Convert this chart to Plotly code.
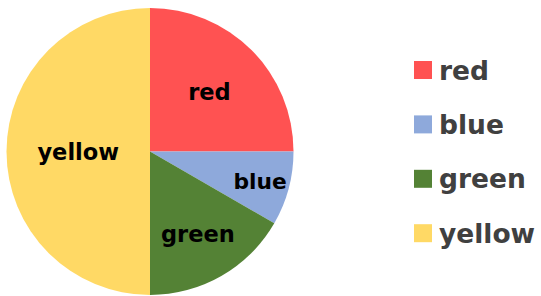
import plotly.graph_objects as go

labels = ["red", "blue", "green", "yellow"]
values = [3, 1, 2, 6]
colors = ["#FF5252", "#8EA9DB", "#548235", "#FFD965"]

W, H = 541, 296
FONT = "DejaVu Sans"

fig = go.Figure()
fig.add_trace(go.Pie(
    labels=labels,
    values=values,
    marker=dict(colors=colors, line=dict(width=0)),
    sort=False,
    direction="clockwise",
    rotation=0,
    textinfo="label",
    textposition="inside",
    insidetextorientation="horizontal",
    textfont=dict(family=FONT, size=22.5, color="black", weight="bold"),
    showlegend=False,
    hoverinfo="label+value",
    domain=dict(x=[6.5 / W, 293.5 / W], y=[1 / H, 288 / H]),
))

# custom legend built from the label/colour lists
shapes = []
annotations = []
y0 = 70
step = 54.4
for i, (lab, col) in enumerate(zip(labels, colors)):
    cy = y0 + i * step
    shapes.append(dict(type="rect", xref="paper", yref="paper",
                       x0=414 / W, x1=432 / W,
                       y0=1 - (cy + 9) / H, y1=1 - (cy - 9) / H,
                       fillcolor=col, line=dict(width=0)))
    annotations.append(dict(xref="paper", yref="paper", x=437 / W, y=1 - cy / H,
                            xanchor="left", yanchor="middle", showarrow=False,
                            text=lab,
                            font=dict(family=FONT, size=26.5, color="#404040", weight="bold")))

fig.update_layout(
    width=W, height=H,
    margin=dict(l=0, r=0, t=0, b=0),
    paper_bgcolor="white", plot_bgcolor="white",
    shapes=shapes, annotations=annotations,
)

fig.write_html("out.html", config={"displayModeBar": False},
               post_script="document.body.style.margin='0';document.body.style.overflow='hidden';")
